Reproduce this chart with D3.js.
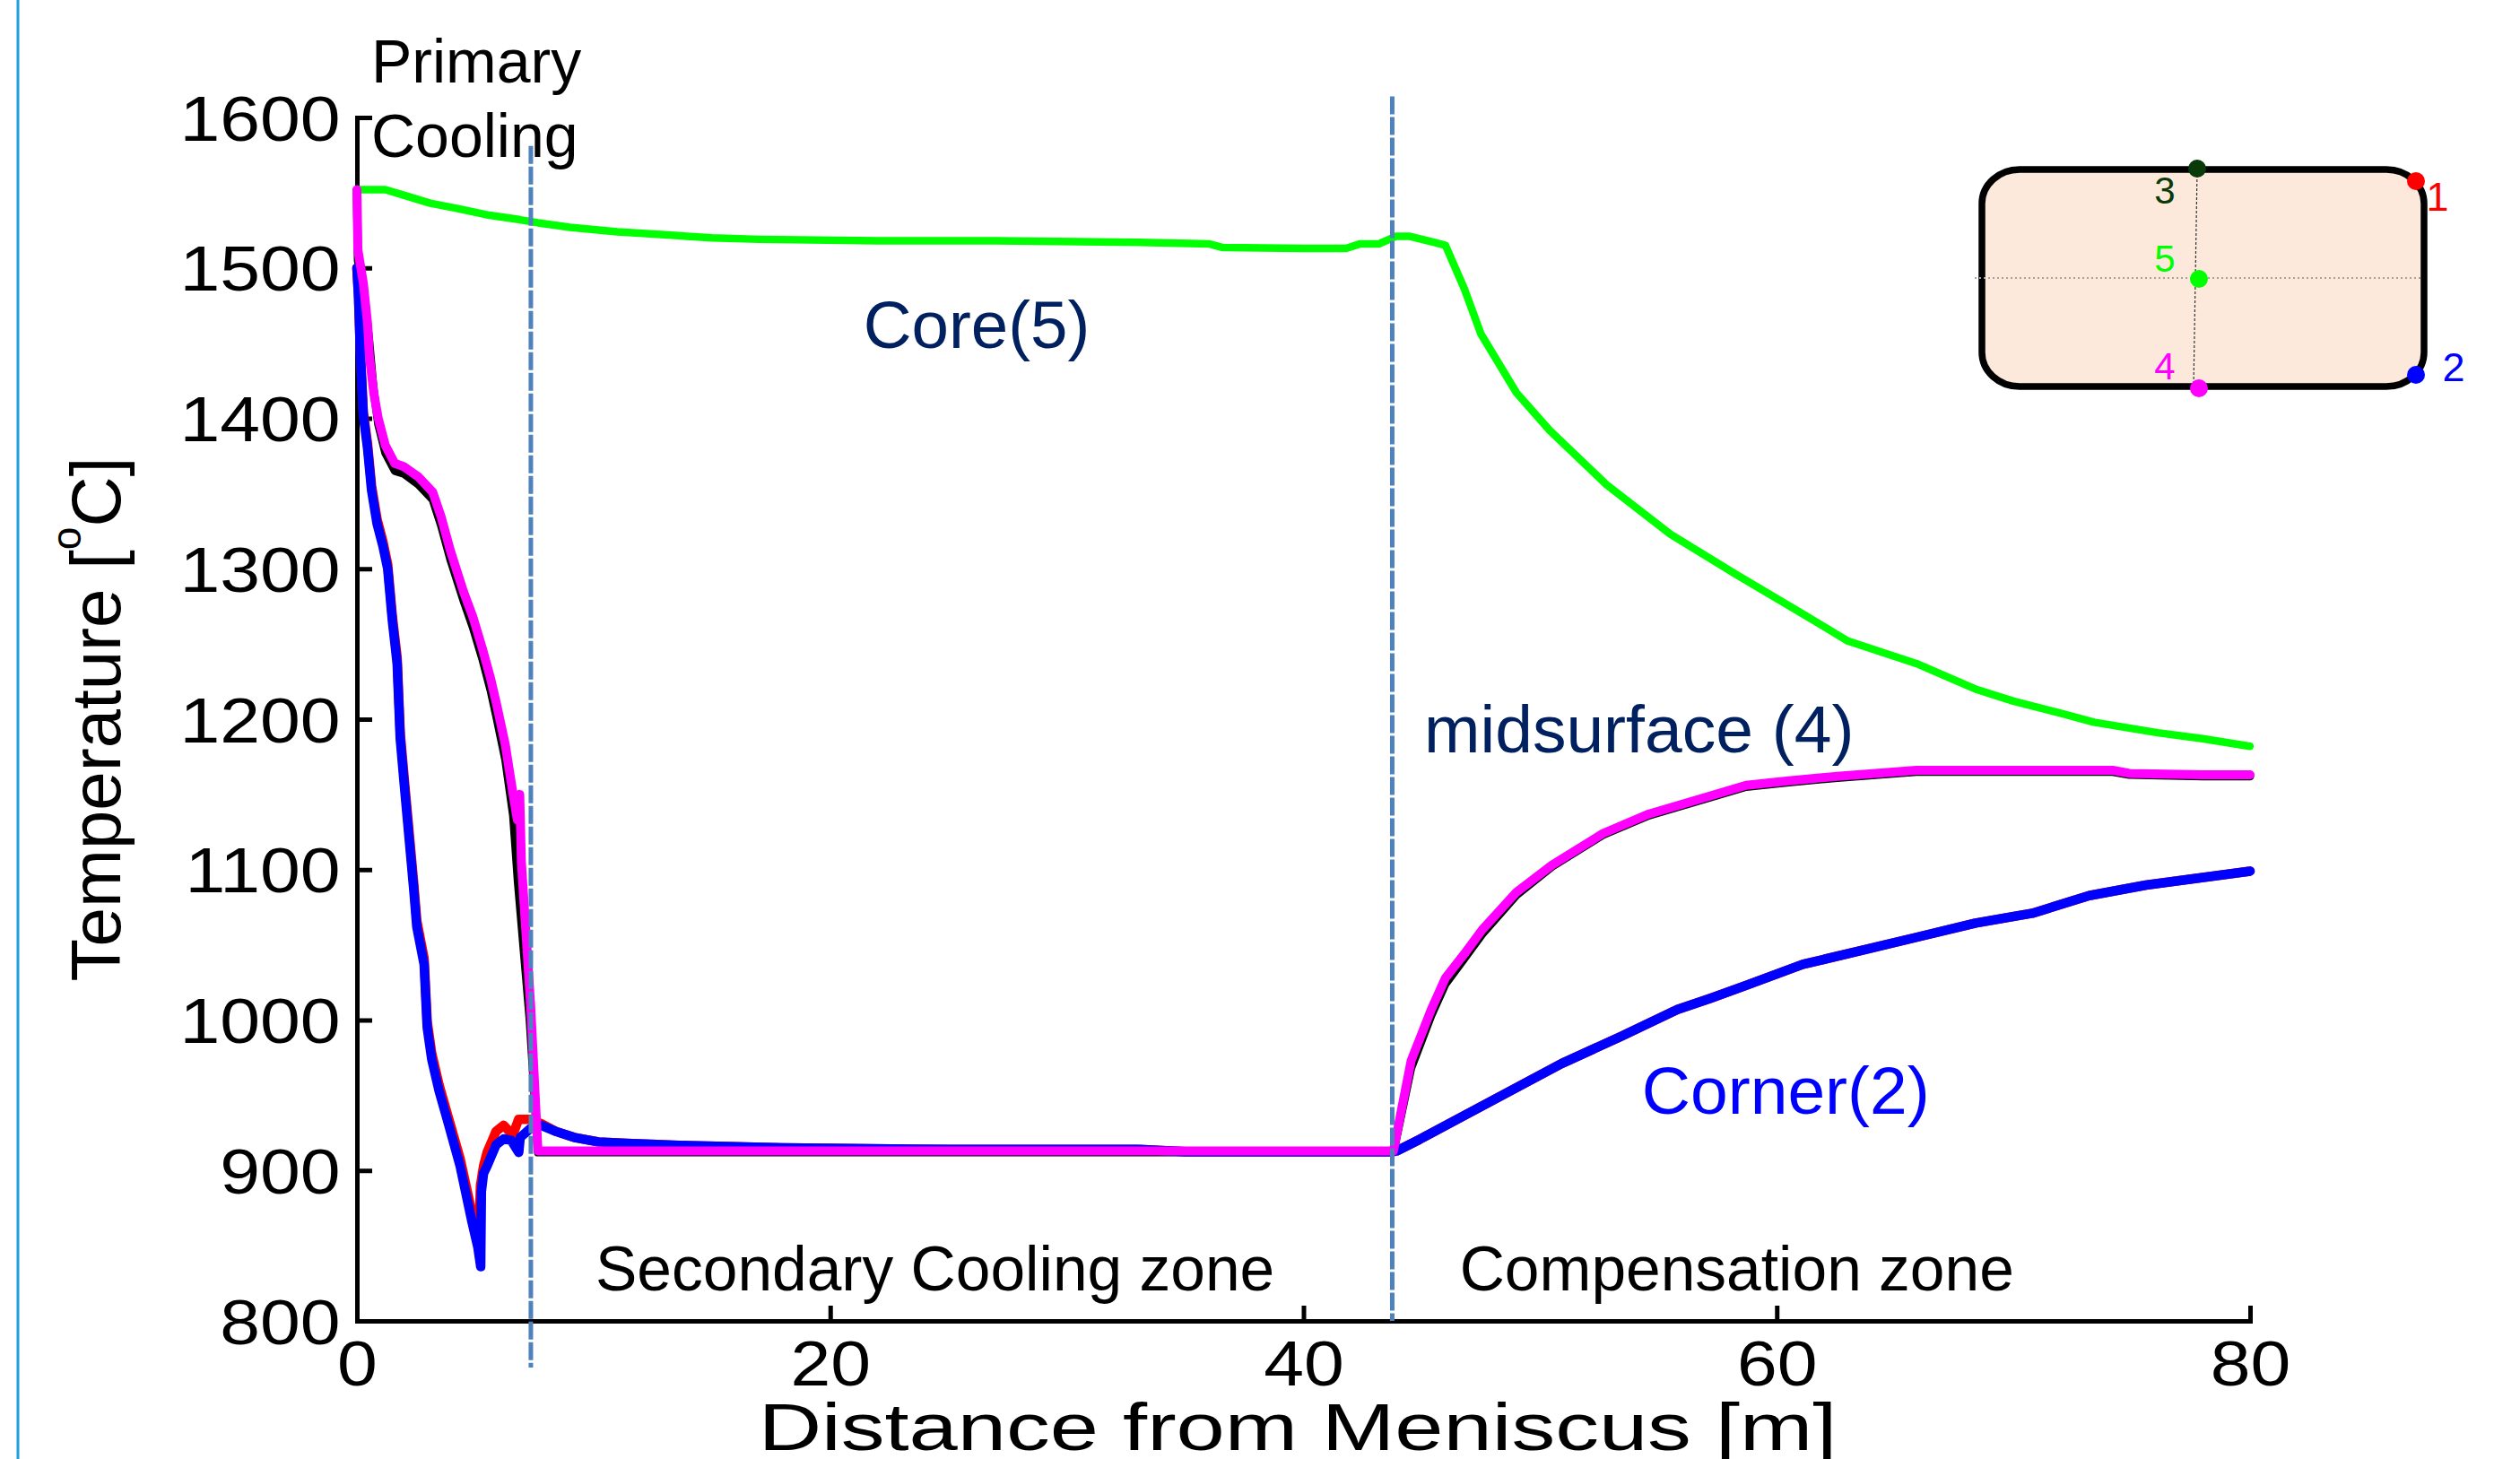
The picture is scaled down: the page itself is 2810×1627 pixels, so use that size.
<!DOCTYPE html>
<html><head><meta charset="utf-8">
<script src="https://cdn.jsdelivr.net/npm/d3@7"></script>
<style>
html,body{margin:0;padding:0;background:#fff;}
svg{display:block;}
text{font-family:"Liberation Sans",Arial,Helvetica,sans-serif;}
</style></head><body>
<svg id="chart" width="2810" height="1627"></svg>
<script>
// ---- data ----
const xTicks = [0, 20, 40, 60, 80];
const yTicks = [800, 900, 1000, 1100, 1200, 1300, 1400, 1500, 1600];
const zoneBounds = [7.35, 43.75];

// Core (point 5): [distance m, temperature C]
const core = [[0,1552],[1.2,1552],[1.85,1549],[3.1,1543],[4.4,1539],[5.6,1535],[6.9,1532],[7.65,1530],[9.0,1527],[11,1524],[13,1522],[15,1520],[17,1519],[22,1518],[27,1518],[33,1517],[36,1516],[36.6,1513.5],[40,1513],[41.8,1513],[42.4,1516],[43.2,1516],[43.9,1521],[44.5,1521],[45.5,1517],[46.0,1515],[46.8,1486],[47.5,1456],[49.0,1417],[50.4,1392],[52.8,1356],[55.5,1323],[58.3,1296],[61.1,1270],[63.0,1252],[65.9,1237],[68.4,1220],[70,1212],[72.0,1204],[73.4,1198],[76.1,1191],[78,1187],[80,1182]];

// Midsurface (point 4)
const midsurface = [[0,1552],[0.04,1512],[0.27,1490],[0.45,1463],[0.53,1441],[0.72,1416],[0.9,1400],[1.2,1382],[1.6,1370],[1.97,1368],[2.6,1361],[3.2,1351],[3.55,1335],[3.95,1312],[4.5,1285],[4.9,1268],[5.3,1247],[5.65,1227],[5.9,1210],[6.27,1183],[6.6,1150],[6.78,1133],[6.88,1150],[6.95,1105],[7.34,1010],[7.65,913],[20,913],[43.8,913],[44.55,973],[45.4,1007],[46.0,1028],[46.8,1044],[47.55,1060],[49.0,1085],[50.5,1103],[52.65,1124],[54.6,1137],[57.2,1149],[58.7,1156],[60.5,1159],[62.55,1162],[65.9,1166],[74.2,1166],[74.9,1164],[78,1163],[80,1163]];

// Mid top surface (point 3)
const midTop = [[0,1550],[0.04,1505],[0.27,1485],[0.5,1455],[0.7,1420],[0.9,1396],[1.2,1377],[1.6,1365],[2.0,1363],[2.6,1356],[3.2,1346],[3.55,1329],[3.95,1306],[4.5,1279],[4.9,1261],[5.3,1240],[5.65,1219],[5.9,1201],[6.27,1173],[6.6,1136],[6.8,1092],[7.3,1000],[7.65,912],[43.8,912],[44.55,968],[45.4,1003],[46.0,1024],[46.8,1041],[47.55,1057],[49,1083],[50.5,1102],[52.65,1123],[54.6,1136],[57.2,1148],[58.7,1155],[60.5,1158],[62.55,1161],[65.9,1165],[74.2,1165],[74.9,1163],[78,1162],[80,1162]];

// Corner (point 2)
const corner2 = [[0,1500],[0.07,1480],[0.15,1441],[0.27,1402],[0.45,1380],[0.62,1352],[0.85,1330],[1.1,1315],[1.3,1300],[1.5,1265],[1.7,1237],[1.83,1187],[2.02,1153],[2.21,1120],[2.4,1087],[2.53,1062],[2.84,1037],[2.97,995],[3.16,974],[3.47,953],[3.85,932],[4.36,903],[4.86,866],[5.11,849],[5.23,836],[5.26,886],[5.35,898],[5.5,903],[5.88,917],[6.2,921],[6.52,920],[6.84,912],[6.9,922],[7.34,928],[7.78,930],[8.4,926],[9.17,922],[10.2,919],[11.4,918],[14,916.5],[18,915],[25,914],[33,914],[35,912.5],[43.75,912.5],[43.94,913],[44.9,920.6],[46.8,936.6],[49.0,955],[50.9,971],[53.4,989],[55.8,1007],[57.2,1014.5],[58.7,1023],[61.1,1037],[63.5,1046],[65.9,1055],[68.4,1064.5],[70.8,1071],[73.2,1082.7],[75.6,1089.7],[80,1099]];

// Corner (point 1)
const corner1 = [[0,1500],[0.07,1481],[0.15,1443],[0.27,1404],[0.45,1383],[0.62,1355],[0.85,1333],[1.1,1318],[1.3,1303],[1.5,1268],[1.7,1241],[1.83,1191],[2.02,1157],[2.21,1124],[2.4,1091],[2.53,1066],[2.84,1041],[2.97,999],[3.16,978],[3.47,957],[3.85,936],[4.36,908],[4.86,872],[5.07,855],[5.15,852],[5.22,890],[5.35,903],[5.5,912],[5.88,926],[6.2,930],[6.5,925],[6.6,924],[6.83,934],[7.3,934],[7.8,931],[8.4,926],[9.17,922],[10.2,919],[11.4,918],[14,916.5],[18,915],[25,914],[33,914],[35,912.5],[43.75,912.5],[43.94,913],[44.9,920.6],[46.8,936.6],[49.0,955],[50.9,971],[53.4,989],[55.8,1007],[57.2,1014.5],[58.7,1023],[61.1,1037],[63.5,1046],[65.9,1055],[68.4,1064.5],[70.8,1071],[73.2,1082.7],[75.6,1089.7],[80,1099]];

const seriesNames = ["midTop","corner1","core","corner2","midsurface"];
const seriesColors = ["#000000","#ff0000","#00ff00","#0000ff","#ff00ff"];
const seriesWidths = [9,10.5,8.5,10.5,10];
const seriesData = [midTop, corner1, core, corner2, midsurface];

// ---- drawing ----
const svg = d3.select("#chart");
svg.append("rect").attr("width",2810).attr("height",1627).attr("fill","#fff");
const FONT = '"Liberation Sans",Arial,Helvetica,sans-serif';

const x = d3.scaleLinear().domain([0,80]).range([398,2509]);
const y = d3.scaleLinear().domain([800,1600]).range([1473,131]);

// left page border line
svg.append("line").attr("x1",20).attr("x2",20).attr("y1",0).attr("y2",1627)
  .attr("stroke","#1f9fe0").attr("stroke-width",3);

// axes
const gx = svg.append("g").attr("transform",`translate(0,${y(800)})`)
  .call(d3.axisBottom(x).tickValues(xTicks).tickSize(-17).tickSizeOuter(0).tickPadding(22).tickFormat(d3.format("d")));
const gy = svg.append("g").attr("transform",`translate(${x(0)},0)`)
  .call(d3.axisLeft(y).tickValues(yTicks).tickSize(-17).tickSizeOuter(0).tickPadding(16).tickFormat(d3.format("d")));
[gx,gy].forEach(g=>{
  g.select(".domain").attr("stroke","#000").attr("stroke-width",5).attr("stroke-linecap","square");
  g.selectAll(".tick line").attr("stroke","#000").attr("stroke-width",5);
  g.selectAll(".tick text").attr("font-size",70).attr("fill","#000").attr("font-family",FONT)
    .attr("transform","scale(1.15,1)");
});
gy.selectAll(".tick text").attr("dy","0.36em");

// series lines
const line = d3.line().x(d=>x(d[0])).y(d=>y(d[1]));
seriesData.forEach((data,i)=>{
  svg.append("path").datum(data).attr("class","series-"+seriesNames[i])
    .attr("d",line).attr("fill","none").attr("stroke",seriesColors[i])
    .attr("stroke-width",seriesWidths[i]).attr("stroke-linejoin","round").attr("stroke-linecap","round");
});

// zone boundary dashed lines
svg.append("line").attr("x1",x(zoneBounds[0])).attr("x2",x(zoneBounds[0]))
  .attr("y1",y(1581)).attr("y2",y(769))
  .attr("stroke","#4f81bd").attr("stroke-width",5).attr("stroke-dasharray","20 3");
svg.append("line").attr("x1",x(zoneBounds[1])).attr("x2",x(zoneBounds[1]))
  .attr("y1",y(1614)).attr("y2",y(800))
  .attr("stroke","#4f81bd").attr("stroke-width",5).attr("stroke-dasharray","20 3");

// annotations
function txt(str, px, py, size, color, anchor){
  return svg.append("text").attr("x",px).attr("y",py).attr("font-size",size)
    .attr("fill",color).attr("text-anchor",anchor||"start").attr("font-family",FONT).text(str);
}
txt("Primary", 414, 92, 68, "#000");
txt("Cooling", 414, 175, 68, "#000");
txt("Core(5)", x(21.4), y(1447), 74.5, "#002060");
txt("midsurface (4)", x(45.1), y(1178), 75, "#002060");
txt("Corner(2)", x(54.3), y(937.5), 75, "#0000ff");
txt("Secondary Cooling zone", x(10.08), y(820.5), 69.5, "#000");
txt("Compensation zone", x(46.6), y(820.5), 69.5, "#000");

// axis titles
svg.append("text").attr("transform","translate(1447,1617) scale(1.30,1)")
  .attr("text-anchor","middle").attr("font-size",75).attr("font-family",FONT).attr("fill","#000")
  .text("Distance from Meniscus [m]");
const yt = svg.append("text").attr("transform","translate(134,802) rotate(-90)")
  .attr("text-anchor","middle").attr("font-size",78).attr("font-family",FONT).attr("fill","#000");
yt.append("tspan").text("Temperature [");
yt.append("tspan").attr("font-size",46).attr("dy",-44).text("o");
yt.append("tspan").attr("font-size",78).attr("dy",44).text("C]");

// inset cross-section schematic
const inset = svg.append("g");
inset.append("rect").attr("x",2210).attr("y",189).attr("width",493).attr("height",242)
  .attr("rx",42).attr("ry",38).attr("fill","#fce9db").attr("stroke","#000").attr("stroke-width",7.5);
inset.append("line").attr("x1",2202).attr("x2",2699).attr("y1",310).attr("y2",310)
  .attr("stroke","#a8a29e").attr("stroke-width",2).attr("stroke-dasharray","2 3");
inset.append("line").attr("x1",2450).attr("x2",2446).attr("y1",190).attr("y2",433)
  .attr("stroke","#333").attr("stroke-width",1.2).attr("stroke-dasharray","3 2");
const dots = [[2450,188,"#0a3a0a"],[2694,202,"#ff0000"],[2452,311,"#00ff00"],[2452,433,"#ff00ff"],[2694,418,"#0000ff"]];
dots.forEach(d=>inset.append("circle").attr("cx",d[0]).attr("cy",d[1]).attr("r",10).attr("fill",d[2]));
const insetLabels = [["3",2414,227,"#0a3a0a",42],["5",2414,303,"#00ff00",42],["4",2414,423,"#ff00ff",42],["1",2718,235,"#ff0000",45],["2",2736,425,"#0000ff",45]];
insetLabels.forEach(l=>inset.append("text").attr("x",l[1]).attr("y",l[2]).attr("font-size",l[4])
  .attr("fill",l[3]).attr("text-anchor","middle").attr("font-family",FONT).text(l[0]));
</script>
</body></html>
